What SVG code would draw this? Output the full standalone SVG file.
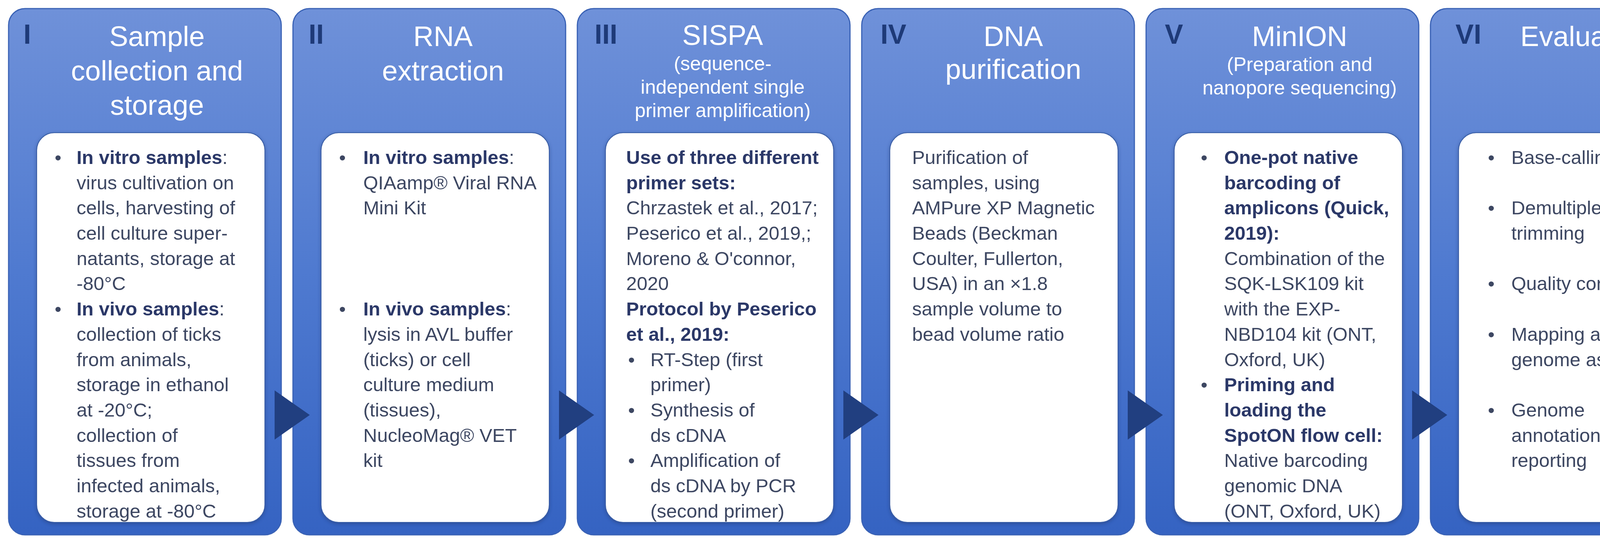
<svg xmlns="http://www.w3.org/2000/svg" width="4379" height="1396" viewBox="0 0 4379 1396">
<defs>
<linearGradient id="pg" x1="0" y1="0" x2="0" y2="1">
<stop offset="0" stop-color="#6f91d9"/>
<stop offset="0.5" stop-color="#4f7ad0"/>
<stop offset="1" stop-color="#3563c2"/>
</linearGradient>
<filter id="sh" x="-5%" y="-5%" width="110%" height="110%">
<feDropShadow dx="0" dy="3" stdDeviation="4" flood-color="#1c3570" flood-opacity="0.5"/>
</filter>
</defs>
<style>
.panel{fill:url(#pg);stroke:#3a62b5;stroke-width:3}
.box{fill:#ffffff;stroke:#3b5ea6;stroke-width:2}
.num{font-family:"Liberation Sans",Arial,sans-serif;font-weight:bold;font-size:70px;fill:#1e3a78}
.ttl{font-family:"Liberation Sans",Arial,sans-serif;font-size:72px;fill:#ffffff;text-anchor:middle}
.sub{font-family:"Liberation Sans",Arial,sans-serif;font-size:50px;fill:#ffffff;text-anchor:middle}
.t{font-family:"Liberation Sans",Arial,sans-serif;font-size:49px;fill:#3d4762}
.b{font-weight:bold;fill:#2b3868}
.arrow{fill:#213f80}
</style>
<rect width="4379" height="1396" fill="#ffffff"/>

<g id="panel1">
<rect class="panel" x="22" y="22" width="698" height="1348" rx="42"/>
<rect class="box" x="94" y="340" width="584" height="998" rx="45" filter="url(#sh)"/>
<text class="num" x="60" y="112">I</text>
<text class="ttl" x="402" y="118">Sample</text>
<text class="ttl" x="402" y="206">collection and</text>
<text class="ttl" x="402" y="294">storage</text>
<text class="t" x="140" y="420">•</text>
<text class="t" x="140" y="808">•</text>
<text class="t"><tspan class="b" x="196" y="420">In vitro samples</tspan><tspan>:</tspan>
<tspan x="196" y="485">virus cultivation on</tspan>
<tspan x="196" y="549">cells, harvesting of</tspan>
<tspan x="196" y="614">cell culture super-</tspan>
<tspan x="196" y="679">natants, storage at</tspan>
<tspan x="196" y="743">-80°C</tspan>
<tspan class="b" x="196" y="808">In vivo samples</tspan><tspan>:</tspan>
<tspan x="196" y="873">collection of ticks</tspan>
<tspan x="196" y="938">from animals,</tspan>
<tspan x="196" y="1002">storage in ethanol</tspan>
<tspan x="196" y="1067">at -20°C;</tspan>
<tspan x="196" y="1132">collection of</tspan>
<tspan x="196" y="1196">tissues from</tspan>
<tspan x="196" y="1261">infected animals,</tspan>
<tspan x="196" y="1326">storage at -80°C</tspan></text>
</g>

<g id="panel2">
<rect class="panel" x="750" y="22" width="698" height="1348" rx="42"/>
<rect class="box" x="822" y="340" width="584" height="998" rx="45" filter="url(#sh)"/>
<text class="num" x="790" y="112">II</text>
<text class="ttl" x="1134" y="118">RNA</text>
<text class="ttl" x="1134" y="206">extraction</text>
<text class="t" x="868" y="420">•</text>
<text class="t" x="868" y="808">•</text>
<text class="t"><tspan class="b" x="930" y="420">In vitro samples</tspan><tspan>:</tspan>
<tspan x="930" y="485">QIAamp® Viral RNA</tspan>
<tspan x="930" y="549">Mini Kit</tspan>
<tspan class="b" x="930" y="808">In vivo samples</tspan><tspan>:</tspan>
<tspan x="930" y="873">lysis in AVL buffer</tspan>
<tspan x="930" y="938">(ticks) or cell</tspan>
<tspan x="930" y="1002">culture medium</tspan>
<tspan x="930" y="1067">(tissues),</tspan>
<tspan x="930" y="1132">NucleoMag® VET</tspan>
<tspan x="930" y="1196">kit</tspan></text>
</g>

<g id="panel3">
<rect class="panel" x="1478" y="22" width="698" height="1348" rx="42"/>
<rect class="box" x="1550" y="340" width="584" height="998" rx="45" filter="url(#sh)"/>
<text class="num" x="1522" y="112">III</text>
<text class="ttl" x="1850" y="115">SISPA</text>
<text class="sub" x="1850" y="180">(sequence-</text>
<text class="sub" x="1850" y="240">independent single</text>
<text class="sub" x="1850" y="300">primer amplification)</text>
<text class="t" x="1608" y="938">•</text>
<text class="t" x="1608" y="1067">•</text>
<text class="t" x="1608" y="1196">•</text>
<text class="t"><tspan class="b" x="1603" y="420">Use of three different</tspan>
<tspan class="b" x="1603" y="485">primer sets:</tspan>
<tspan x="1603" y="549">Chrzastek et al., 2017;</tspan>
<tspan x="1603" y="614">Peserico et al., 2019,;</tspan>
<tspan x="1603" y="679">Moreno &amp; O'connor,</tspan>
<tspan x="1603" y="743">2020</tspan>
<tspan class="b" x="1603" y="808">Protocol by Peserico</tspan>
<tspan class="b" x="1603" y="873">et al., 2019:</tspan>
<tspan x="1665" y="938">RT-Step (first</tspan>
<tspan x="1665" y="1002">primer)</tspan>
<tspan x="1665" y="1067">Synthesis of</tspan>
<tspan x="1665" y="1132">ds cDNA</tspan>
<tspan x="1665" y="1196">Amplification of</tspan>
<tspan x="1665" y="1261">ds cDNA by PCR</tspan>
<tspan x="1665" y="1326">(second primer)</tspan></text>
</g>

<g id="panel4">
<rect class="panel" x="2206" y="22" width="698" height="1348" rx="42"/>
<rect class="box" x="2278" y="340" width="584" height="998" rx="45" filter="url(#sh)"/>
<text class="num" x="2254" y="112">IV</text>
<text class="ttl" x="2594" y="118">DNA</text>
<text class="ttl" x="2594" y="202">purification</text>
<text class="t"><tspan x="2335" y="420">Purification of</tspan>
<tspan x="2335" y="485">samples, using</tspan>
<tspan x="2335" y="549">AMPure XP Magnetic</tspan>
<tspan x="2335" y="614">Beads (Beckman</tspan>
<tspan x="2335" y="679">Coulter, Fullerton,</tspan>
<tspan x="2335" y="743">USA) in an ×1.8</tspan>
<tspan x="2335" y="808">sample volume to</tspan>
<tspan x="2335" y="873">bead volume ratio</tspan></text>
</g>

<g id="panel5">
<rect class="panel" x="2934" y="22" width="698" height="1348" rx="42"/>
<rect class="box" x="3006" y="340" width="584" height="998" rx="45" filter="url(#sh)"/>
<text class="num" x="2982" y="112">V</text>
<text class="ttl" x="3327" y="118">MinION</text>
<text class="sub" x="3327" y="182">(Preparation and</text>
<text class="sub" x="3327" y="242">nanopore sequencing)</text>
<text class="t" x="3074" y="420">•</text>
<text class="t" x="3074" y="1002">•</text>
<text class="t"><tspan class="b" x="3134" y="420">One-pot native</tspan>
<tspan class="b" x="3134" y="485">barcoding of</tspan>
<tspan class="b" x="3134" y="549">amplicons (Quick,</tspan>
<tspan class="b" x="3134" y="614">2019):</tspan>
<tspan x="3134" y="679">Combination of the</tspan>
<tspan x="3134" y="743">SQK-LSK109 kit</tspan>
<tspan x="3134" y="808">with the EXP-</tspan>
<tspan x="3134" y="873">NBD104 kit (ONT,</tspan>
<tspan x="3134" y="938">Oxford, UK)</tspan>
<tspan class="b" x="3134" y="1002">Priming and</tspan>
<tspan class="b" x="3134" y="1067">loading the</tspan>
<tspan class="b" x="3134" y="1132">SpotON flow cell:</tspan>
<tspan x="3134" y="1196">Native barcoding</tspan>
<tspan x="3134" y="1261">genomic DNA</tspan>
<tspan x="3134" y="1326">(ONT, Oxford, UK)</tspan></text>
</g>

<g id="panel6">
<rect class="panel" x="3662" y="22" width="698" height="1348" rx="42"/>
<rect class="box" x="3734" y="340" width="589" height="998" rx="45" filter="url(#sh)"/>
<text class="num" x="3726" y="112">VI</text>
<text class="ttl" x="4060" y="118">Evaluation</text>
<text class="t" x="3809" y="420">•</text>
<text class="t" x="3809" y="549">•</text>
<text class="t" x="3809" y="743">•</text>
<text class="t" x="3809" y="873">•</text>
<text class="t" x="3809" y="1067">•</text>
<text class="t"><tspan x="3869" y="420">Base-calling</tspan>
<tspan x="3869" y="549">Demultiplexing and</tspan>
<tspan x="3869" y="614">trimming</tspan>
<tspan x="3869" y="743">Quality control</tspan>
<tspan x="3869" y="873">Mapping and</tspan>
<tspan x="3869" y="938">genome assembly</tspan>
<tspan x="3869" y="1067">Genome</tspan>
<tspan x="3869" y="1132">annotation and</tspan>
<tspan x="3869" y="1196">reporting</tspan></text>
</g>

<g id="connectors">
<polygon class="arrow" points="703,1000 793,1063 703,1126"/>
<polygon class="arrow" points="1431,1000 1521,1063 1431,1126"/>
<polygon class="arrow" points="2159,1000 2249,1063 2159,1126"/>
<polygon class="arrow" points="2887,1000 2977,1063 2887,1126"/>
<polygon class="arrow" points="3615,1000 3705,1063 3615,1126"/>
</g>
</svg>
